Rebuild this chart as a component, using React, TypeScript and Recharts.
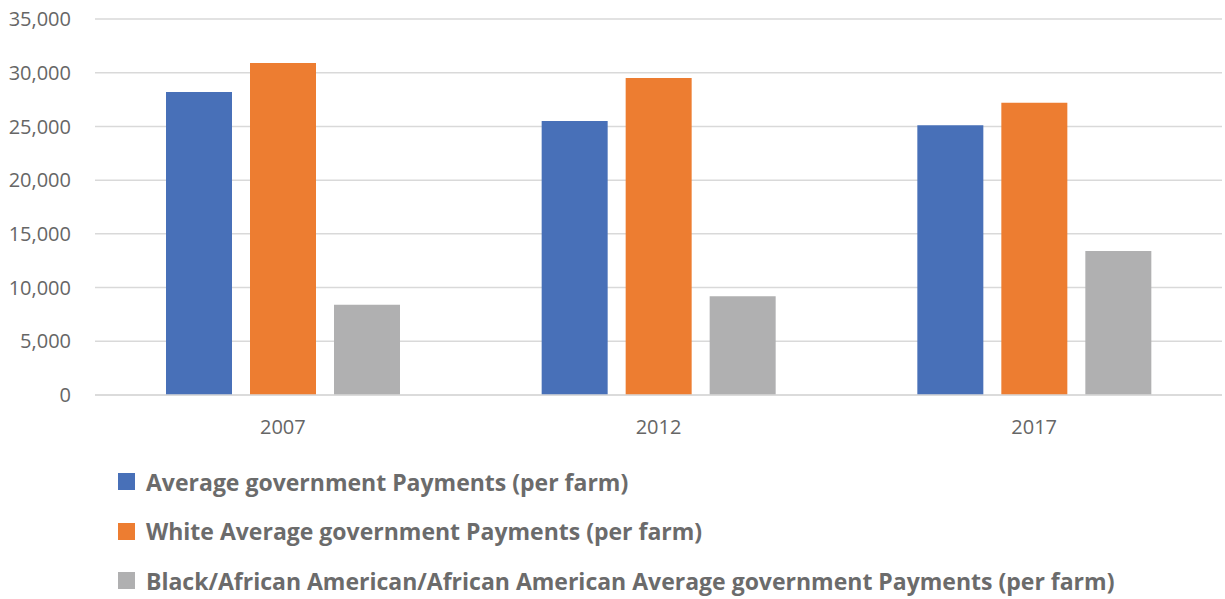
import React from "react";
import { BarChart, Bar, XAxis, YAxis, CartesianGrid } from "recharts";

const YEARS = ["2007", "2012", "2017"];
const AVERAGE = [28200, 25500, 25100];
const WHITE = [30900, 29500, 27200];
const BLACK = [8400, 9200, 13400];
const Y_TICKS = [0, 5000, 10000, 15000, 20000, 25000, 30000, 35000];

const SERIES = [
  { key: "average", name: "Average government Payments (per farm)", color: "#4870B8" },
  { key: "white", name: "White Average government Payments (per farm)", color: "#ED7D31" },
  {
    key: "black",
    name: "Black/African American/African American Average government Payments (per farm)",
    color: "#B0B0B1",
  },
];

const data = YEARS.map((year, i) => ({
  year,
  average: AVERAGE[i],
  white: WHITE[i],
  black: BLACK[i],
}));

const FONT = "'Open Sans', 'Liberation Sans', sans-serif";

export default function App() {
  return (
    <div
      style={{
        position: "absolute",
        top: 0,
        left: 0,
        width: 1225,
        height: 599,
        background: "#fff",
        fontFamily: FONT,
        overflow: "hidden",
      }}
    >
      <BarChart
        width={1225}
        height={440}
        data={data}
        margin={{ top: 19, right: 3, left: 15, bottom: 0 }}
        barGap={18}
        barCategoryGap={71}
      >
        <CartesianGrid vertical={false} stroke="#d9d9d9" strokeWidth={1.5} />
        <XAxis
          dataKey="year"
          height={45}
          axisLine={{ stroke: "#d9d9d9", strokeWidth: 1.5 }}
          tickLine={false}
          tick={{ fill: "#666", fontSize: 20, fontFamily: FONT }}
          tickMargin={19}
        />
        <YAxis
          width={80}
          domain={[0, 35000]}
          ticks={Y_TICKS}
          axisLine={false}
          tickLine={false}
          tickFormatter={(v: number) => v.toLocaleString("en-US")}
          tick={{ fill: "#666", fontSize: 20, fontFamily: FONT }}
          tickMargin={18}
        />
        {SERIES.map((s) => (
          <Bar
            key={s.key}
            dataKey={s.key}
            name={s.name}
            fill={s.color}
            barSize={66}
            isAnimationActive={false}
          />
        ))}
      </BarChart>
      <div style={{ position: "absolute", left: 118, top: 457 }}>
        {SERIES.map((s) => (
          <div
            key={s.key}
            style={{ display: "flex", alignItems: "center", height: 49.5, whiteSpace: "nowrap" }}
          >
            <span
              style={{
                display: "inline-block",
                width: 17,
                height: 17,
                background: s.color,
                marginRight: 11,
              }}
            />
            <span style={{ color: "#6b6b6b", fontWeight: 700, fontSize: 23 }}>
              {s.name}
            </span>
          </div>
        ))}
      </div>
    </div>
  );
}
